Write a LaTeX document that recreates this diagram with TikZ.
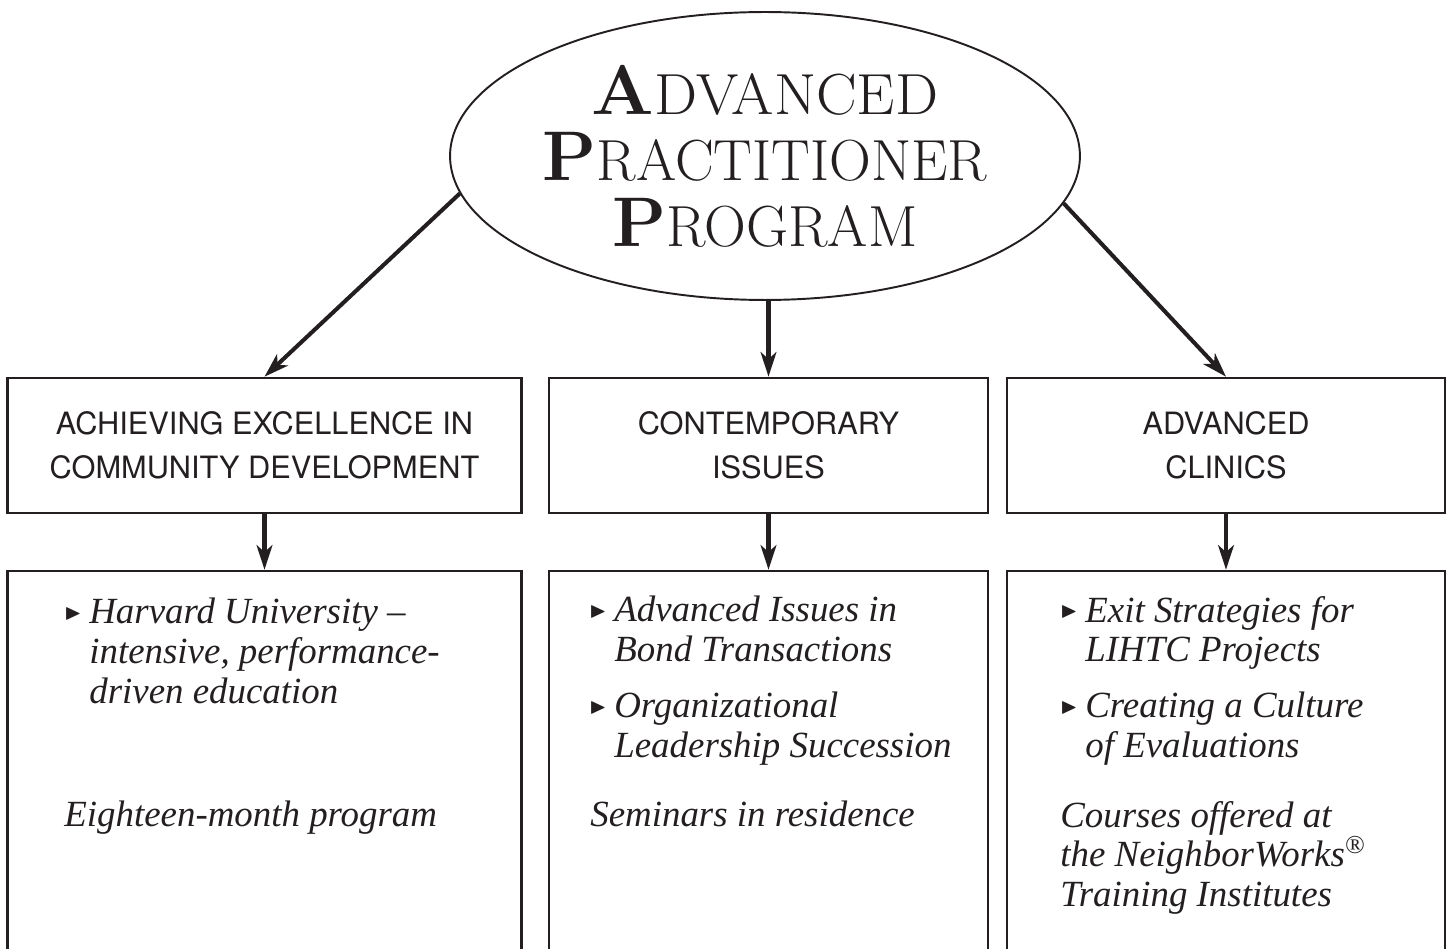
\documentclass[tikz,border=0pt]{standalone}
\usepackage{amssymb}
\usepackage{fontspec}
\newfontfamily\capsans{TeX Gyre Heros}
\newfontfamily\bodyserif[Ligatures=TeX]{Liberation Serif}
\usetikzlibrary{arrows.meta,shapes.geometric}
\definecolor{inkc}{RGB}{35,31,32}
\newcommand{\bul}{\makebox[0.5cm][l]{\raisebox{0.12em}{\scalebox{0.6}{$\blacktriangleright$}}}}
\newcommand{\ind}{\hspace*{0.5cm}}
\newcommand{\ini}[1]{{\fontsize{40}{40}\selectfont\bfseries #1}}
\newcommand{\squeeze}[2]{\scalebox{#1}[1]{#2}}

\begin{document}
\begin{tikzpicture}[x=0.02cm,y=-0.02cm,inkc,
  prog/.style={ellipse, draw, line width=1.1pt, minimum width=12.6cm, minimum height=5.76cm, inner sep=0pt, align=center, font=\fontsize{33}{37.5}\selectfont},
  track/.style={rectangle, draw, line width=1.5pt, minimum height=2.7cm, align=center, font=\capsans\fontsize{17.5}{25}\selectfont},
  detail/.style={rectangle, draw, line width=1.5pt, minimum height=8.38cm},
  item/.style={anchor=north west, inner sep=0pt, align=left, font=\bodyserif\itshape\fontsize{21}{22.5}\selectfont},
  note/.style={anchor=base west, inner sep=0pt, align=left, font=\bodyserif\itshape\fontsize{21}{22.5}\selectfont},
  link/.style={line width=2.3pt, -{Stealth[length=14pt,width=9pt,inset=4pt]}}]
\clip (0,0) rectangle (1448,949);

% program and its three tracks
\node[prog] (app) at (765,156) {\squeeze{1.05}{\ini{A}DVANCED}\\ \squeeze{1}{\ini{P}RACTITIONER}\\ \squeeze{1}{\ini{P}ROGRAM}};
\node[track, minimum width=10.28cm] (aecd) at (264.5,445.5) {ACHIEVING EXCELLENCE IN\\COMMUNITY DEVELOPMENT};
\node[track, minimum width=8.78cm] (ci) at (768.5,445.5) {CONTEMPORARY\\ISSUES};
\node[track, minimum width=8.76cm] (ac) at (1226,445.5) {ADVANCED\\CLINICS};
\draw[link] (app.187.8) -- (aecd.north);
\draw[link] (app.south -| ci.north) -- (ci.north);
\draw[link] (app.351.4) -- (ac.north);

% details
\node[detail, minimum width=10.28cm] (aecdx) at (264.5,780.5) {};
\node[detail, minimum width=8.78cm] (cix) at (768.5,780.5) {};
\node[detail, minimum width=8.76cm] (acx) at (1226,780.5) {};
\draw[link] (aecd.south) -- (aecdx.north);
\draw[link] (ci.south) -- (cix.north);
\draw[link] (ac.south) -- (acx.north);

\node[item] (harv) at (64,598) {\bul Harvard University –\\\ind intensive, performance-\\\ind driven education};
\node[note] (eight) at (64,826) {Eighteen-month program};
\node[item] (bond) at (589,596) {\bul Advanced Issues in\\\ind Bond Transactions};
\node[item] (lead) at (589,692) {\bul Organizational\\\ind Leadership Succession};
\node[note] (semi) at (590,826) {Seminars in residence};
\node[item] (exit) at (1060,596) {\bul Exit Strategies for\\\ind LIHTC Projects};
\node[item] (eval) at (1060,692) {\bul Creating a Culture\\\ind of Evaluations};
\node[item] (nwti) at (1060,801) {Courses offered at\\the NeighborWorks\textsuperscript{\textregistered}\\Training Institutes};
\end{tikzpicture}
\end{document}
